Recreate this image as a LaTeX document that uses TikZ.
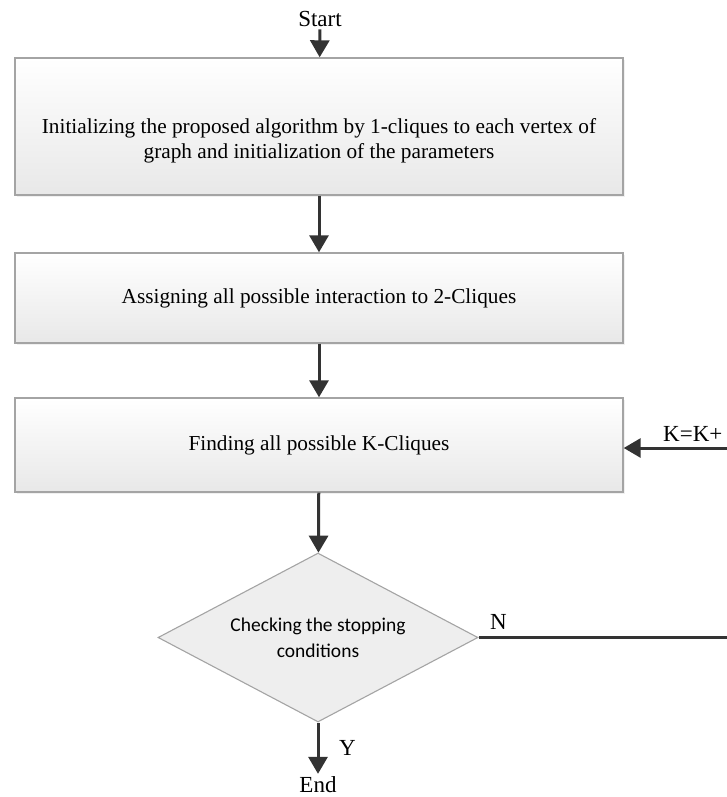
\documentclass[tikz,border=0pt]{standalone}
\usepackage{fontspec}
\setmainfont{Liberation Serif}
\newfontfamily\calibri{Carlito}
\usetikzlibrary{shapes.geometric, arrows.meta, positioning, shadows}
\definecolor{boxline}{HTML}{A4A4A4}
\definecolor{boxfill}{HTML}{E8E8E8}
\definecolor{arrowgray}{HTML}{333333}

\begin{document}
\begin{tikzpicture}[
    x=1pt, y=-1pt,
    box/.style={draw=boxline, line width=1.4pt, top color=white, bottom color=boxfill, minimum width=608pt, align=center, font=\fontsize{21.3}{25}\selectfont, drop shadow={opacity=0.12, shadow xshift=2pt, shadow yshift=-2pt}},
    decision/.style={diamond, aspect=1.9, draw=boxline, line width=1.1pt, fill=boxfill!75, minimum width=320pt, minimum height=169pt, inner sep=0pt, align=center, font=\calibri\fontsize{19.5}{26}\selectfont},
    arrow/.style={-{Triangle[length=17pt, width=19pt]}, line width=3pt, draw=arrowgray},
    txt/.style={font=\fontsize{23}{26}\selectfont, inner sep=2pt},
]
\useasboundingbox (0,0) rectangle (727,797);

% Steps
\node[txt, anchor=base] (start) at (320,27) {Start};
\node[box, minimum height=137pt] (init) at (319,126.5) {\rule{0pt}{44pt}Initializing the proposed algorithm by 1-cliques to each vertex of\\graph and initialization of the parameters};
\node[box, minimum height=90pt] (assign) at (319,298) {Assigning all possible interaction to 2-Cliques};
\node[box, minimum height=94pt] (find) at (319,445) {Finding all possible K-Cliques};

% Decision
\node[decision] (check) at (318,637.5) {Checking the stopping\\conditions};
\node[txt, inner sep=0pt, anchor=base] (end) at (318,792) {End};

% Loop ends at the picture edge
\coordinate (loopin) at (727,448);
\coordinate (loopout) at (727,637.5);

% Arrows
\draw[arrow] (start) -- (init);
\draw[arrow] (init) -- (assign);
\draw[arrow] (assign) -- (find);
\draw[arrow] (find) -- (check);
\draw[arrow, shorten >=2pt] (check) -- (end);
\draw[arrow] (loopin) -- (find.east |- loopin);
\draw[line width=3pt, draw=arrowgray] (check.east) -- (loopout);

% Labels
\node[txt, anchor=base west] (yes) at (337,755) {Y};
\node[txt, anchor=base west] (no) at (488,629) {N};
\node[txt, anchor=base west] (inc) at (661,441) {K=K+};

\end{tikzpicture}
\end{document}
